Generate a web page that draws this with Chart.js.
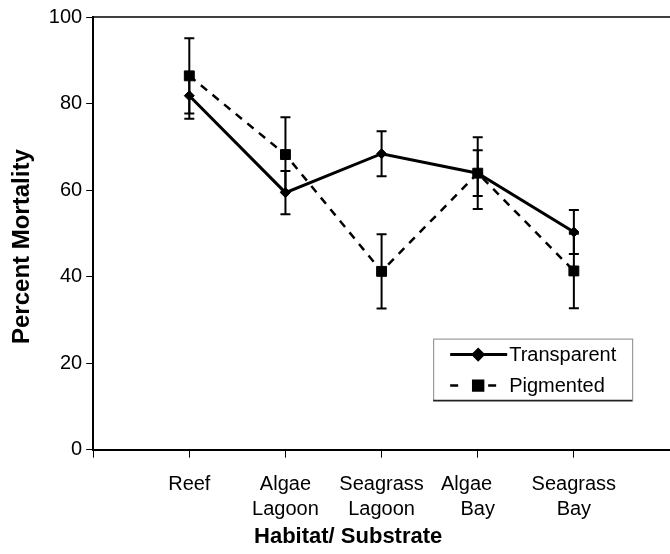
<!DOCTYPE html>
<html>
<head>
<meta charset="utf-8">
<script src="https://cdn.jsdelivr.net/npm/chart.js@4/dist/chart.umd.min.js"></script>
<style>
  html, body { margin: 0; padding: 0; background: #fff; }
  #wrap { width: 670px; height: 554px; position: relative; }
</style>
</head>
<body>
<div id="wrap"><canvas id="myChart"></canvas></div>
<script>
// habitat categories (x positions 1..5)
const categories = ["Reef", ["Algae", "Lagoon"], ["Seagrass", "Lagoon"], ["Algae    ", "Bay"], ["Seagrass", "Bay"]];
const yTicks = [0, 20, 40, 60, 80, 100];

const transparent = [81.8, 59.4, 68.4, 63.9, 50.3];
const transparentErr = [5.3, 5.0, 5.2, 5.3, 5.1];
const pigmented = [86.4, 68.2, 41.2, 63.9, 41.3];
const pigmentedErr = [8.7, 8.6, 8.6, 8.3, 8.6];

const FONT = "'Liberation Sans', Arial, Helvetica, sans-serif";
Chart.defaults.font.family = FONT;
Chart.defaults.color = "#000";

function toPoints(vals) {
  return vals.map((v, i) => ({ x: i + 1, y: v }));
}

// vertical error bars with caps, drawn through the scales
const errorBars = {
  id: "errorBars",
  afterDatasetsDraw(chart) {
    const ctx = chart.ctx;
    const xs = chart.scales.x;
    const ys = chart.scales.y;
    ctx.save();
    ctx.strokeStyle = "#000";
    ctx.lineWidth = 2;
    chart.data.datasets.forEach((ds) => {
      ds.data.forEach((p, i) => {
        const e = ds.errors[i];
        const x = xs.getPixelForValue(p.x);
        const top = ys.getPixelForValue(p.y + e);
        const bot = ys.getPixelForValue(p.y - e);
        ctx.beginPath();
        ctx.moveTo(x, top);
        ctx.lineTo(x, bot);
        ctx.moveTo(x - 5, top);
        ctx.lineTo(x + 5, top);
        ctx.moveTo(x - 5, bot);
        ctx.lineTo(x + 5, bot);
        ctx.stroke();
      });
    });
    ctx.restore();
  },
};

// top frame line + boxed legend inside the plot
const frameLegend = {
  id: "frameLegend",
  afterDraw(chart) {
    const ctx = chart.ctx;
    const a = chart.chartArea;
    ctx.save();
    ctx.strokeStyle = "#000";
    ctx.lineWidth = 1.5;
    ctx.beginPath();
    ctx.moveTo(a.left, a.top);
    ctx.lineTo(a.right, a.top);
    ctx.stroke();

    const bx = a.left + 340, by = a.bottom - 111, bw = 199, bh = 62;
    ctx.fillStyle = "#fff";
    ctx.fillRect(bx, by, bw, bh);
    ctx.strokeStyle = "#888";
    ctx.lineWidth = 1;
    ctx.strokeRect(bx + 0.5, by + 0.5, bw, bh);
    ctx.strokeStyle = "#222";
    ctx.lineWidth = 1.5;
    ctx.beginPath();
    ctx.moveTo(bx, by + bh);
    ctx.lineTo(bx + bw, by + bh);
    ctx.stroke();

    ctx.font = "20px " + FONT;
    ctx.textBaseline = "middle";
    ctx.textAlign = "left";
    chart.data.datasets.forEach((ds, k) => {
      const yy = by + 16 + k * 31;
      ctx.strokeStyle = "#000";
      ctx.fillStyle = "#000";
      ctx.lineWidth = ds.borderWidth;
      ctx.setLineDash(ds.borderDash ? [8, 30] : []);
      ctx.beginPath();
      ctx.moveTo(bx + 17, yy);
      ctx.lineTo(bx + 74, yy);
      ctx.stroke();
      ctx.setLineDash([]);
      Chart.helpers.drawPoint(ctx, { pointStyle: ds.pointStyle, radius: ds.pointRadius, rotation: 0, borderWidth: 1 }, bx + 45, yy);
      ctx.fillText(ds.label, bx + 76, yy + 1);
    });
    ctx.restore();
  },
};

const ctx = document.getElementById("myChart").getContext("2d");
const chart = new Chart(ctx, {
  type: "line",
  data: {
    datasets: [
      {
        label: "Transparent",
        data: toPoints(transparent),
        errors: transparentErr,
        borderColor: "#000",
        backgroundColor: "#000",
        borderWidth: 3,
        pointStyle: "rectRot",
        pointRadius: 5,
        pointBorderWidth: 1,
        tension: 0,
      },
      {
        label: "Pigmented",
        data: toPoints(pigmented),
        errors: pigmentedErr,
        borderColor: "#000",
        backgroundColor: "#000",
        borderWidth: 2.5,
        borderDash: [8, 7],
        pointStyle: "rect",
        pointRadius: 7,
        pointBorderWidth: 1,
        tension: 0,
      },
    ],
  },
  options: {
    animation: false,
    responsive: true,
    maintainAspectRatio: false,
    layout: { autoPadding: false, padding: { left: 8, top: 17, right: 0, bottom: 2 } },
    plugins: {
      legend: { display: false },
      tooltip: { enabled: false },
      title: {
        display: true,
        position: "bottom",
        text: "   Habitat/ Substrate",
        color: "#000",
        font: { size: 22, weight: "bold" },
        padding: { top: 2, bottom: 2 },
      },
    },
    scales: {
      x: {
        type: "linear",
        min: 0,
        max: 6,
        border: { color: "#000", width: 2 },
        grid: { drawOnChartArea: false, color: "#000", tickLength: 8 },
        ticks: {
          stepSize: 1,
          autoSkip: false,
          maxRotation: 0,
          padding: 14,
          font: { size: 20, lineHeight: 1.25 },
          callback: (v) => categories[v - 1] || "",
        },
        afterFit: (scale) => {
          // plot runs off the right edge like the scanned figure
          scale.paddingRight = 0;
          scale.height -= 14;
        },
      },
      y: {
        min: 0,
        max: 100,
        border: { color: "#000", width: 2 },
        grid: { drawOnChartArea: false, color: "#000", tickLength: 7 },
        afterBuildTicks: (axis) => {
          axis.ticks = yTicks.map((v) => ({ value: v }));
        },
        ticks: {
          padding: 4,
          font: { size: 20 },
        },
        title: {
          display: true,
          text: "Percent Mortality    ",
          font: { size: 24, weight: "bold" },
          padding: { top: 0, bottom: 8 },
        },
      },
    },
  },
  plugins: [errorBars, frameLegend],
});
</script>
</body>
</html>
